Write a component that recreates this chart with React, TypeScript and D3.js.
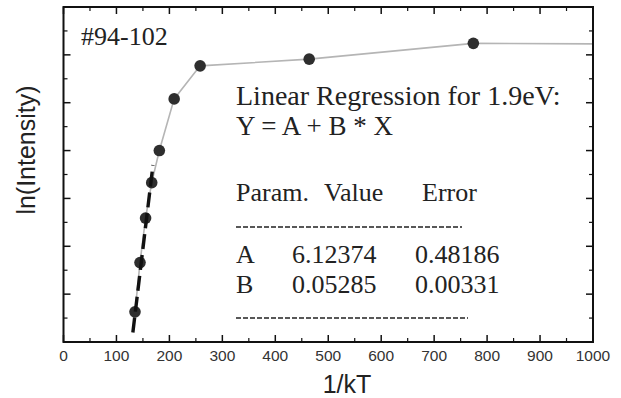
import * as d3 from "d3";

// measured points (1/kT, ln(Intensity))
const invKT = [135, 144.5, 155, 166.6, 181, 209, 258, 464, 774];
const lnI = [0.63, 1.66, 2.59, 3.33, 4.0, 5.08, 5.77, 5.91, 6.24];
// connecting line carries on to the right frame
const tailX = 1000;
const tailY = 6.23;
// linear fit segment drawn as thick dashes
const fitX = [131, 169];
const fitY = [0.2, 3.7];

const xTicks = [0, 100, 200, 300, 400, 500, 600, 700, 800, 900, 1000];
const yTicks = [0, 1, 2, 3, 4, 5, 6, 7];

const sampleLabel = "#94-102";
const fitTitle = "Linear Regression for 1.9eV:";
const fitEquation = "Y = A + B * X";
const tableHead = ["Param.", "Value", "Error"];
const tableRows = [
  ["A", "6.12374", "0.48186"],
  ["B", "0.05285", "0.00331"],
];

function App() {
  const width = 621;
  const height = 398;
  const left = 63.5;
  const right = 593;
  const top = 7;
  const bottom = 342;

  const x = d3.scaleLinear([0, 1000], [left, right]);
  const y = d3.scaleLinear([0, 7], [bottom, top]);

  const line = d3
    .line<number[]>()
    .x((d) => x(d[0]))
    .y((d) => y(d[1]));

  const pts = invKT.map((v, i) => [v, lnI[i]]);
  const trace = [...pts, [tailX, tailY]];
  const fit = fitX.map((v, i) => [v, fitY[i]]);

  const xMinor = d3.range(50, 1000, 100);
  const yMinor = d3.range(0.5, 7, 1);
  const serif = "'Liberation Serif', 'Times New Roman', serif";
  const sans = "'Liberation Sans', Arial, sans-serif";

  return (
    <svg
      width={width}
      height={height}
      style={{ position: "absolute", left: 0, top: 0, background: "#fff" }}
    >
      {/* grey connecting line and markers */}
      <path d={line(trace) ?? ""} fill="none" stroke="#b5b5b5" strokeWidth={1.6} />
      {pts.map((d, i) => (
        <circle key={i} cx={x(d[0])} cy={y(d[1])} r={5.8} fill="#2e2e2e" />
      ))}
      <path
        d={line(fit) ?? ""}
        fill="none"
        stroke="#111"
        strokeWidth={3.4}
        strokeDasharray="15,6"
      />

      {/* frame */}
      <rect
        x={left}
        y={top}
        width={right - left}
        height={bottom - top}
        fill="none"
        stroke="#111"
        strokeWidth={2}
      />
      {xTicks.map((t) => (
        <g key={"x" + t}>
          <line x1={x(t)} x2={x(t)} y1={bottom} y2={bottom - 7} stroke="#111" strokeWidth={1.5} />
          <line x1={x(t)} x2={x(t)} y1={top} y2={top + 7} stroke="#111" strokeWidth={1.5} />
          <text
            x={x(t)}
            y={361}
            textAnchor="middle"
            fontFamily={sans}
            fontSize={15.5}
            fill="#333"
          >
            {t}
          </text>
        </g>
      ))}
      {xMinor.map((t) => (
        <g key={"xm" + t}>
          <line x1={x(t)} x2={x(t)} y1={bottom} y2={bottom - 4} stroke="#111" strokeWidth={1.2} />
          <line x1={x(t)} x2={x(t)} y1={top} y2={top + 4} stroke="#111" strokeWidth={1.2} />
        </g>
      ))}
      {yTicks.map((t) => (
        <g key={"y" + t}>
          <line x1={left} x2={left + 7} y1={y(t)} y2={y(t)} stroke="#111" strokeWidth={1.5} />
          <line x1={right} x2={right - 7} y1={y(t)} y2={y(t)} stroke="#111" strokeWidth={1.5} />
        </g>
      ))}
      {yMinor.map((t) => (
        <g key={"ym" + t}>
          <line x1={left} x2={left + 4} y1={y(t)} y2={y(t)} stroke="#111" strokeWidth={1.2} />
          <line x1={right} x2={right - 4} y1={y(t)} y2={y(t)} stroke="#111" strokeWidth={1.2} />
        </g>
      ))}

      {/* axis titles */}
      <text
        x={347}
        y={393}
        textAnchor="middle"
        fontFamily={sans}
        fontSize={25}
        fill="#222"
      >
        1/kT
      </text>
      <text
        transform="translate(35,150) rotate(-90)"
        textAnchor="middle"
        fontFamily={sans}
        fontSize={25}
        fill="#222"
      >
        ln(Intensity)
      </text>

      {/* annotations */}
      <text x={81} y={45} fontFamily={serif} fontSize={26} fill="#222">
        {sampleLabel}
      </text>
      <text x={236} y={105} fontFamily={serif} fontSize={28} fill="#222">
        {fitTitle}
      </text>
      <text x={236} y={135} fontFamily={serif} fontSize={27} fill="#222">
        {fitEquation}
      </text>
      {tableHead.map((h, i) => (
        <text
          key={h}
          x={[236, 324, 422][i]}
          y={201}
          fontFamily={serif}
          fontSize={26}
          fill="#222"
        >
          {h}
        </text>
      ))}
      <line x1={236} x2={462} y1={227} y2={227} stroke="#222" strokeWidth={1.5} strokeDasharray="5,2" />
      {tableRows.map((row, r) =>
        row.map((c, i) => (
          <text
            key={r + "-" + i}
            x={[236, 292, 415][i]}
            y={263 + r * 30}
            fontFamily={serif}
            fontSize={26}
            fill="#222"
          >
            {c}
          </text>
        ))
      )}
      <line x1={236} x2={468} y1={318} y2={318} stroke="#222" strokeWidth={1.5} strokeDasharray="5,2" />
    </svg>
  );
}

export default App;
